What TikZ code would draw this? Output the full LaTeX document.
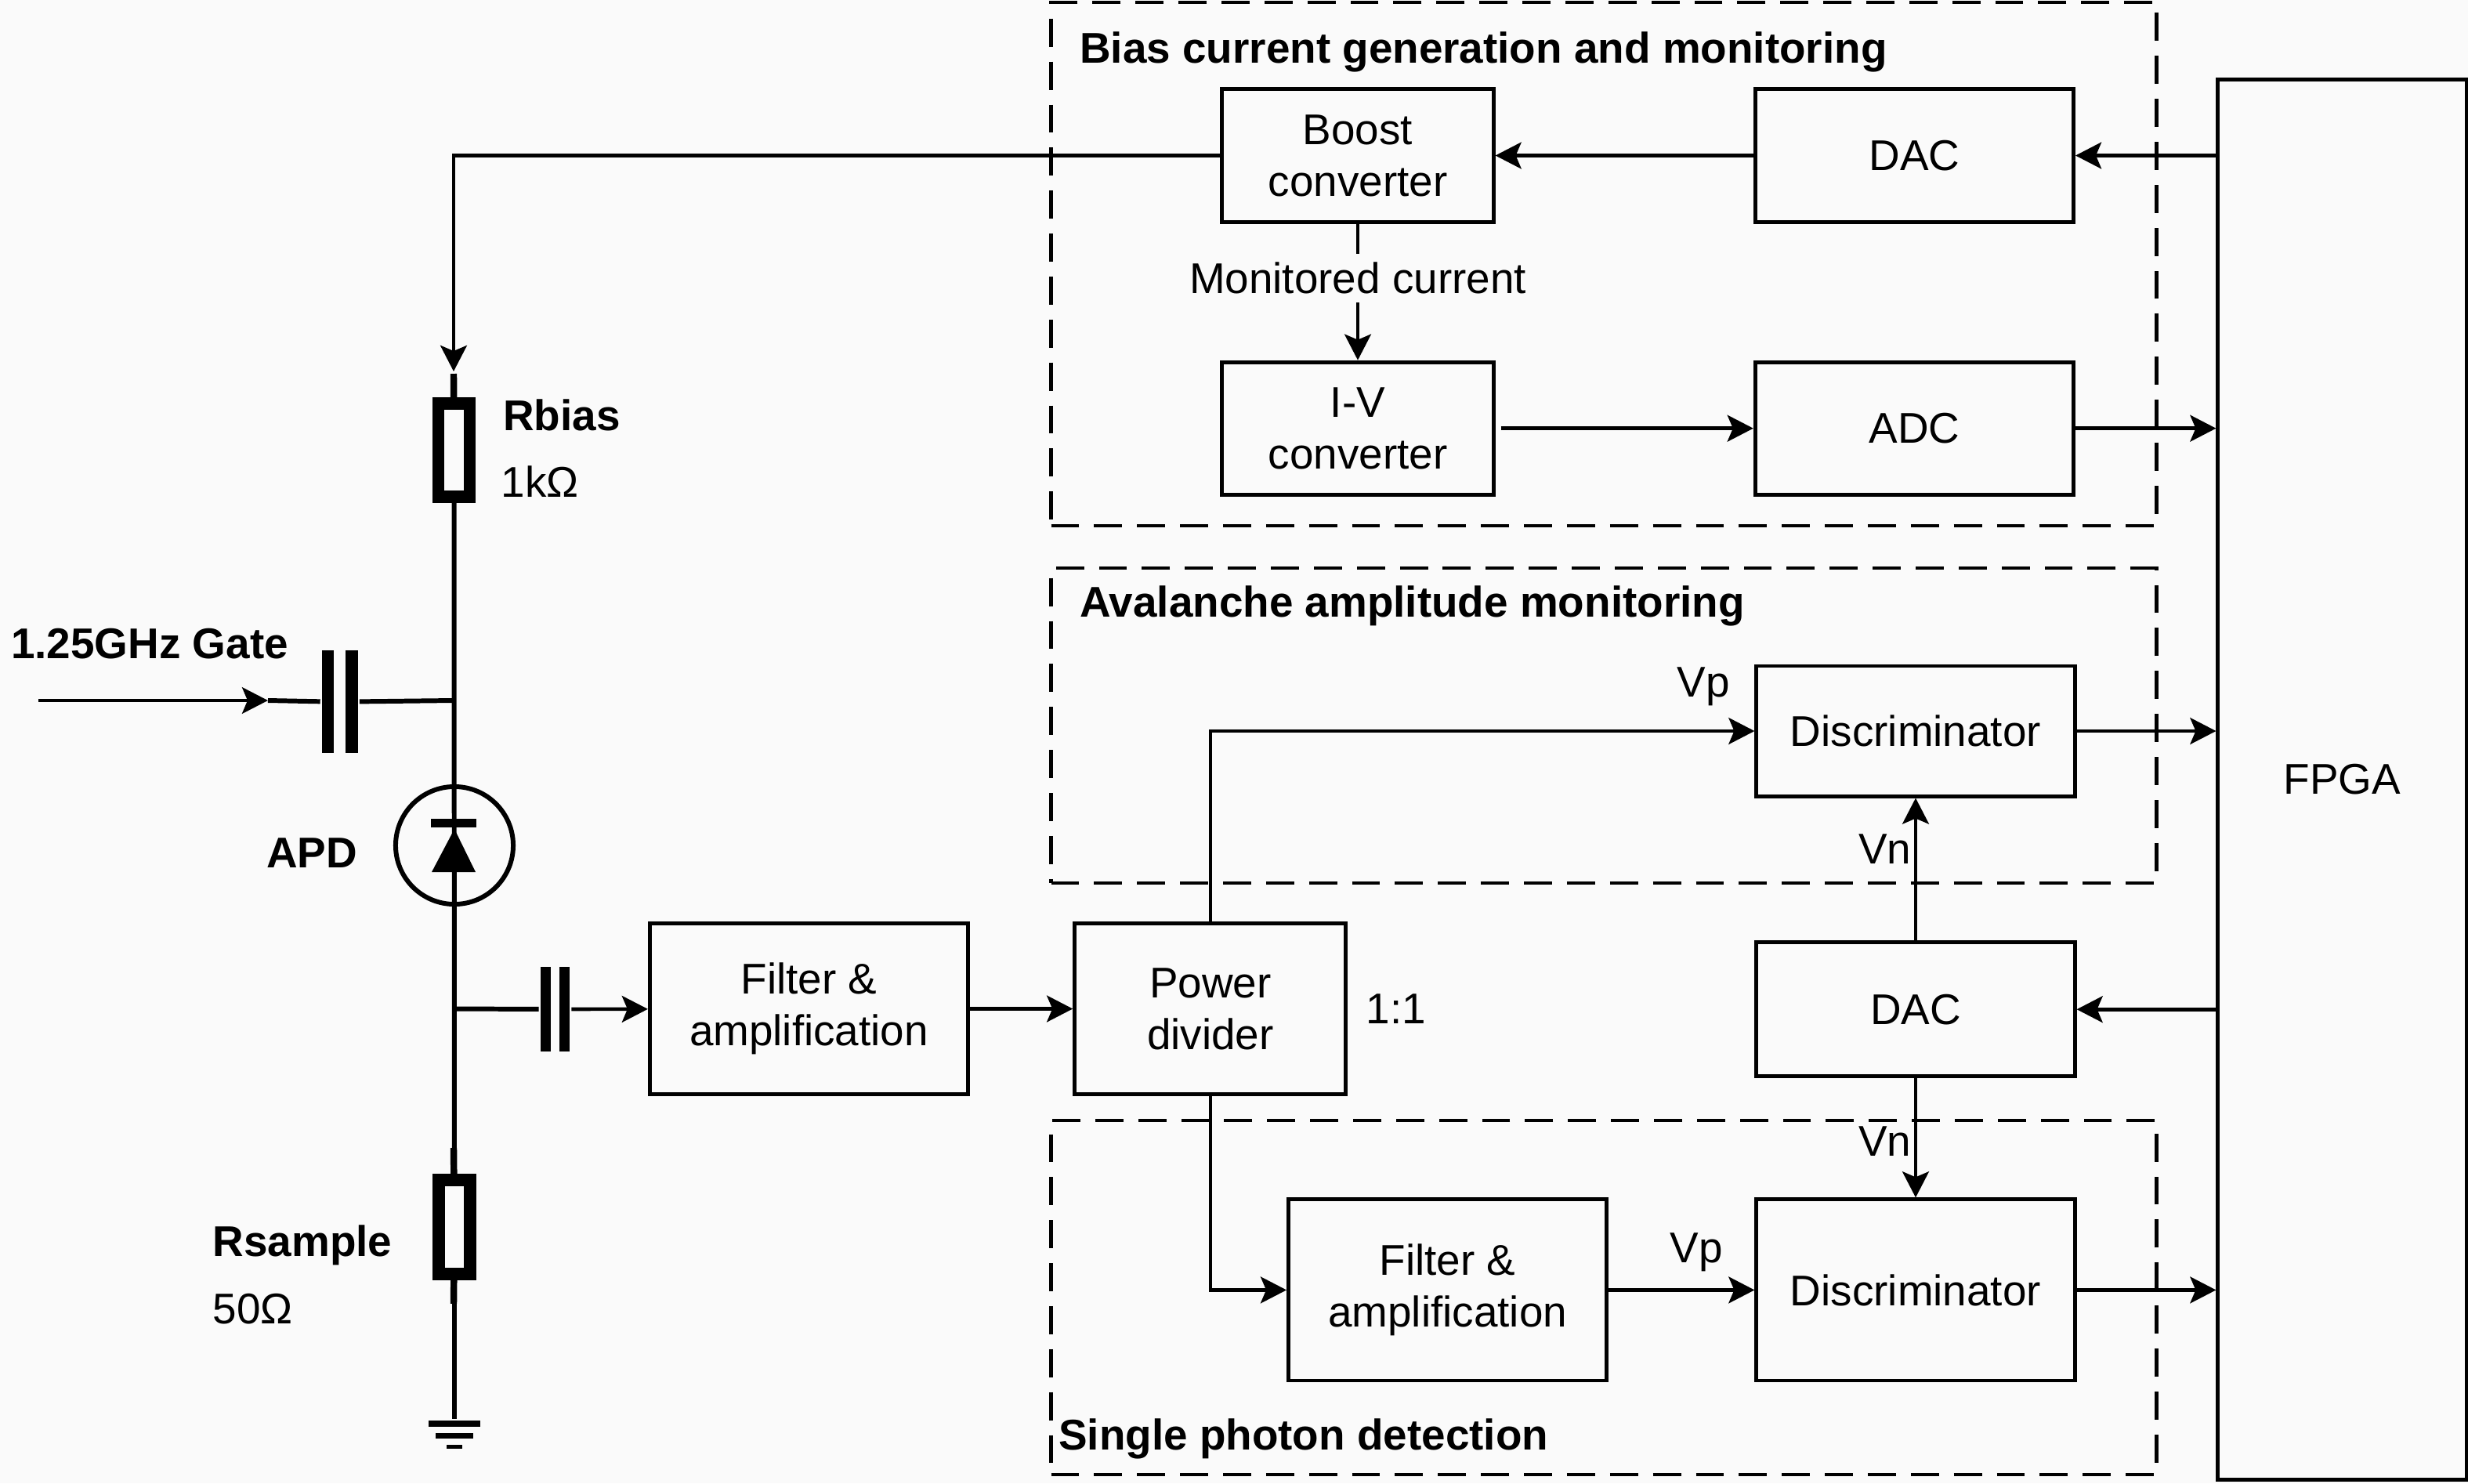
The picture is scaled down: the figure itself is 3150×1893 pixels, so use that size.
\documentclass[tikz,border=0pt]{standalone}
\usepackage{fontspec}
\setmainfont{Liberation Sans}
\usetikzlibrary{arrows.meta}
\definecolor{bgcol}{HTML}{FAFAFA}
\newcommand{\bodyfont}{\fontsize{15.6}{18.8}\selectfont}
\tikzset{
	block/.style={draw,line width=1.4pt,inner sep=0pt,align=center},
	wideblock/.style={block,minimum width=4.06cm},
	dashbox/.style={draw,line width=1.3pt,dash pattern=on 10.2pt off 5.4pt,minimum width=14.10cm},
	title/.style={boldlab,anchor=west,inner sep=0pt},
	boldlab/.style={font=\bodyfont\bfseries},
	lab/.style={inner sep=1pt},
	res/.style={draw,line width=4.5pt,minimum width=.40cm,inner sep=0pt},
	bar/.style={fill=black,inner sep=0pt},
	wire/.style={line width=1.7pt},
	stub/.style={line width=2.4pt}
}

\begin{document}
\begin{tikzpicture}[x=.01cm,y=-.01cm,>={Stealth[length=9.4pt,width=9.6pt,inset=2pt]},line width=1.3pt,font=\bodyfont]

\path[use as bounding box,fill=bgcol] (0,0) rectangle (3150,1893);

% dashed groups
\node[dashbox,minimum height=6.68cm] (GroupBias) at (2047,337) {};
\node[dashbox,minimum height=4.02cm] (GroupAval) at (2047,926) {};
\node[dashbox,minimum height=4.52cm] (GroupDet) at (2047,1656) {};
\node[title] (TitleBias) at (1376,66) {Bias current generation and monitoring};
\node[title] (TitleAval) at (1376,773) {Avalanche amplitude monitoring};
\node[title] (TitleDet) at (1349,1836) {Single photon detection};

% blocks
\node[block,minimum width=3.17cm,minimum height=17.86cm] (FPGA) at (2989.5,995) {FPGA};
\node[block,minimum width=3.46cm,minimum height=1.69cm] (Boost) at (1733,198.5) {Boost\\converter};
\node[block,minimum width=3.46cm,minimum height=1.69cm] (IV) [below of=Boost,node distance=3.48cm] {I-V\\converter};
\node[wideblock,minimum height=1.69cm] (DACa) [right of=Boost,node distance=7.10cm] {DAC};
\node[wideblock,minimum height=1.69cm] (ADC) [right of=IV,node distance=7.10cm] {ADC};
\node[wideblock,minimum height=1.66cm] (DiscA) at (2445,933) {Discriminator};
\node[wideblock,minimum height=1.71cm] (DACb) [below of=DiscA,node distance=3.55cm] {DAC};
\node[wideblock,minimum height=2.31cm] (DiscB) [below of=DACb,node distance=3.58cm] {Discriminator};
\node[wideblock,minimum height=2.31cm] (FilterB) [left of=DiscB,node distance=5.97cm] {Filter \&\\amplification};
\node[wideblock,minimum height=2.17cm] (FilterA) at (1032.5,1287.5) {Filter \&\\amplification};
\node[block,minimum width=3.46cm,minimum height=2.17cm] (Divider) [right of=FilterA,node distance=5.12cm] {Power\\divider};

% circuit parts
\node[res,minimum height=1.19cm] (Rbias) at (579.5,574.5) {};
\node[res,minimum height=1.20cm] (Rsample) at (580,1566) {};
\node[circle,draw,line width=1.7pt,minimum size=1.50cm,inner sep=0pt] (APD) at (580,1079) {};
\node[bar,minimum width=.58cm,minimum height=.11cm] (Cathode) at (579,1050.5) {};
\node[bar,minimum width=.15cm,minimum height=1.31cm] (CapGa) at (418.5,895.5) {};
\node[bar,minimum width=.15cm,minimum height=1.31cm] (CapGb) at (449,895.5) {};
\node[bar,minimum width=.13cm,minimum height=1.08cm] (CapSa) at (696.5,1288) {};
\node[bar,minimum width=.13cm,minimum height=1.08cm] (CapSb) at (720.5,1288) {};
\node[bar,minimum width=.66cm,minimum height=.08cm] (GndA) at (580,1817) {};
\node[bar,minimum width=.47cm,minimum height=.07cm] (GndB) [below of=GndA,node distance=.15cm] {};
\node[bar,minimum width=.19cm,minimum height=.05cm] (GndC) [below of=GndB,node distance=.14cm] {};
\coordinate (BiasIn) at (579,474);
\coordinate (JoinG) at (579,894);
\coordinate (JoinS) at (579,1287.5);
\coordinate (GateIn) at (49,894);
\coordinate (GateTip) at (342,894);
\coordinate (StubA) at (579,477);
\coordinate (StubB) at (579,1465);
\coordinate (StubC) at (579,1664);

\fill (580,1058) -- (551,1113) -- (607,1113) -- cycle;

% labels
\node[boldlab] (LabGate) at (191,822) {1.25GHz Gate};
\node[boldlab] (LabRbias) at (717,530) {Rbias};
\node (LabRk) at (689,615) {1kΩ};
\node[boldlab] (LabAPD) at (398,1089) {APD};
\node[boldlab] (LabRs) at (386,1589) {Rsample};
\node (LabRo) at (323,1671) {50Ω};
\node (LabRatio) at (1782,1288) {1:1};
\node (LabVp) at (2174,876) {Vp};

\path[->]
(FPGA.west |- DACa) edge (DACa)
(DACa) edge (Boost)
(Boost) edge node[fill=bgcol,pos=.4,inner sep=3pt] {Monitored current} (IV)
(IV) edge [shorten <=2pt] (ADC)
(ADC) edge (FPGA.west |- ADC)
(DiscA) edge (FPGA.west |- DiscA)
(FPGA.west |- DACb) edge (DACb)
(DACb) edge node[lab,left,pos=.64] {Vn} (DiscA)
	edge node[lab,left,pos=.53] {Vn} (DiscB)
(DiscB) edge (FPGA.west |- DiscB)
(FilterB) edge node[lab,above=5pt,pos=.6] {Vp} (DiscB)
(FilterA) edge (Divider)
(Divider) edge [to path={|- (\tikztotarget)}] (DiscA)
	edge [to path={|- (\tikztotarget)}] (FilterB)
(Boost) edge [to path={-| (\tikztotarget)}] (BiasIn)
(GateIn) edge [line width=1pt] (GateTip)
(CapSb) edge (FilterA)
;

\path[wire]
(GateTip) edge (CapGa)
(CapGb) edge (JoinG)
(JoinS) edge (CapSa)
(Rbias) edge (Rsample)
(Rsample) edge (GndA)
;
\path[stub]
(StubA) edge (Rbias)
(StubB) edge (Rsample)
(Rsample) edge (StubC)
;
\end{tikzpicture}
\end{document}
